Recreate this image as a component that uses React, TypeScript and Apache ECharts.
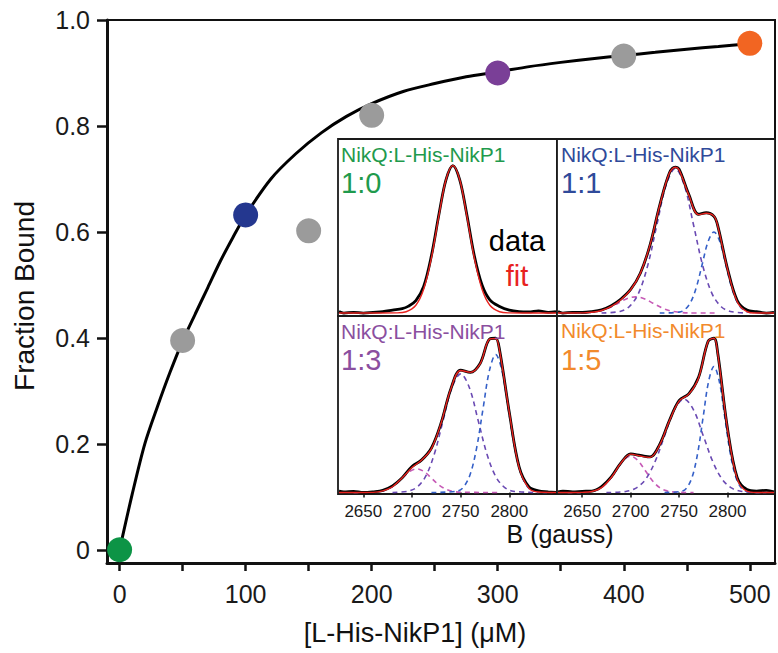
import React, { useEffect, useRef } from "react";
import * as echarts from "echarts";

// ---- Main binding curve ----
const concentrations = [0, 50, 100, 150, 200, 300, 400, 500];
const fractionBound = [0, 0.395, 0.632, 0.602, 0.82, 0.9, 0.932, 0.956];
const pointColors = ["#0d9446", "#9b9b9b", "#24378f", "#9b9b9b", "#9b9b9b", "#7a3f97", "#9b9b9b", "#f26522"];

const curveX = [0, 10, 20, 30, 40, 50, 60, 70, 80, 90, 100, 120, 140, 160, 180, 200, 225, 250, 275, 300, 325, 350, 375, 400, 425, 450, 475, 500];
const curveY = [0, 0.105, 0.2, 0.27, 0.335, 0.394, 0.445, 0.495, 0.545, 0.59, 0.632, 0.7, 0.748, 0.787, 0.818, 0.842, 0.865, 0.88, 0.893, 0.902, 0.912, 0.92, 0.927, 0.933, 0.939, 0.945, 0.95, 0.955];

const xTicks = [0, 50, 100, 150, 200, 250, 300, 350, 400, 450, 500];
const xLabels = [0, 100, 200, 300, 400, 500];
const yTicks = [0, 0.2, 0.4, 0.6, 0.8, 1.0];

// ---- Inset EPR spectra [B (gauss), intensity] ----
const bTicks = [2650, 2700, 2750, 2800];

const spec10Data = [[2625, 0.01], [2630, 0], [2640, 0.005], [2650, 0], [2660, 0.005], [2670, 0.01], [2680, 0.02], [2690, 0.03], [2696, 0.045], [2704, 0.085], [2712, 0.18], [2720, 0.39], [2728, 0.68], [2735, 0.905], [2742, 1], [2749, 0.905], [2756, 0.68], [2764, 0.39], [2772, 0.19], [2780, 0.09], [2790, 0.045], [2800, 0.02], [2810, 0.01], [2820, 0.008], [2830, 0.015], [2840, 0.005], [2848, 0.01]];
const spec10Fit = [[2625, 0], [2640, 0], [2660, 0], [2684, 0.001], [2694, 0.009], [2704, 0.053], [2712, 0.161], [2720, 0.375], [2728, 0.672], [2735, 0.905], [2742, 1], [2749, 0.905], [2756, 0.672], [2764, 0.375], [2772, 0.161], [2780, 0.053], [2790, 0.009], [2800, 0.001], [2820, 0], [2848, 0]];

const spec11Data = [[2625, 0.01], [2630, 0], [2640, 0.005], [2650, 0.004], [2660, 0.01], [2670, 0.022], [2680, 0.05], [2690, 0.095], [2700, 0.16], [2710, 0.27], [2720, 0.46], [2730, 0.73], [2740, 0.95], [2746, 0.99], [2750, 0.975], [2760, 0.805], [2770, 0.67], [2778, 0.68], [2786, 0.655], [2790, 0.59], [2800, 0.3], [2810, 0.085], [2820, 0.02], [2830, 0.01], [2840, 0], [2848, 0.005]];
const spec11Fit = [[2625, 0], [2640, 0], [2650, 0.001], [2660, 0.005], [2670, 0.017], [2680, 0.045], [2690, 0.09], [2700, 0.158], [2710, 0.269], [2720, 0.462], [2730, 0.729], [2740, 0.95], [2746, 0.988], [2750, 0.971], [2760, 0.801], [2770, 0.667], [2778, 0.677], [2786, 0.657], [2790, 0.588], [2800, 0.296], [2810, 0.077], [2820, 0.01], [2830, 0], [2848, 0]];
const spec11Pink = [[2630, 0], [2651, 0.001], [2660, 0.005], [2669, 0.015], [2678, 0.036], [2687, 0.067], [2696, 0.097], [2705, 0.11], [2714, 0.097], [2723, 0.067], [2732, 0.036], [2741, 0.015], [2750, 0.005], [2759, 0.001], [2790, 0]];
const spec11Purple = [[2670, 0], [2689, 0.011], [2698.5, 0.043], [2708, 0.132], [2717.5, 0.319], [2727, 0.595], [2736.5, 0.864], [2746, 0.98], [2755.5, 0.864], [2765, 0.595], [2774.5, 0.319], [2784, 0.132], [2793.5, 0.043], [2803, 0.011], [2820, 0]];
const spec11Blue = [[2730, 0], [2750, 0.006], [2756, 0.024], [2762, 0.074], [2768, 0.179], [2774, 0.334], [2780, 0.485], [2786, 0.55], [2792, 0.485], [2798, 0.334], [2804, 0.179], [2810, 0.074], [2816, 0.024], [2822, 0.006], [2840, 0]];

const spec13Data = [[2625, 0.01], [2630, 0.005], [2640, 0.008], [2650, 0], [2660, 0.005], [2670, 0.015], [2680, 0.045], [2690, 0.1], [2700, 0.175], [2710, 0.22], [2720, 0.3], [2730, 0.47], [2740, 0.7], [2750, 0.825], [2760, 0.81], [2770, 0.87], [2780, 1.035], [2786, 1.04], [2790, 0.96], [2800, 0.54], [2810, 0.175], [2820, 0.04], [2830, 0.012], [2840, 0.005], [2848, 0]];
const spec13Fit = [[2625, 0], [2640, 0], [2650, 0], [2660, 0.001], [2670, 0.011], [2680, 0.039], [2690, 0.099], [2700, 0.168], [2710, 0.219], [2720, 0.296], [2730, 0.47], [2740, 0.7], [2750, 0.823], [2760, 0.81], [2770, 0.867], [2780, 1.035], [2786, 1.038], [2790, 0.956], [2800, 0.538], [2810, 0.169], [2820, 0.03], [2830, 0.003], [2848, 0]];
const spec13Pink = [[2640, 0], [2660, 0.002], [2667.5, 0.007], [2675, 0.022], [2682.5, 0.052], [2690, 0.097], [2697.5, 0.141], [2705, 0.16], [2712.5, 0.141], [2720, 0.097], [2727.5, 0.052], [2735, 0.022], [2742.5, 0.007], [2750, 0.002], [2790, 0]];
const spec13Purple = [[2680, 0], [2696, 0.009], [2705, 0.035], [2714, 0.108], [2723, 0.26], [2732, 0.486], [2741, 0.706], [2750, 0.8], [2759, 0.706], [2768, 0.486], [2777, 0.26], [2786, 0.108], [2795, 0.035], [2804, 0.009], [2830, 0]];
const spec13Blue = [[2720, 0], [2747, 0.01], [2753.5, 0.041], [2760, 0.126], [2766.5, 0.303], [2773, 0.564], [2779.5, 0.82], [2786, 0.93], [2792.5, 0.82], [2799, 0.564], [2805.5, 0.303], [2812, 0.126], [2818.5, 0.041], [2825, 0.01], [2845, 0]];

const spec15Data = [[2625, 0.005], [2630, 0.01], [2640, 0.005], [2650, 0.008], [2660, 0.01], [2670, 0.04], [2680, 0.105], [2690, 0.2], [2700, 0.26], [2710, 0.25], [2720, 0.24], [2730, 0.325], [2740, 0.485], [2750, 0.62], [2760, 0.665], [2770, 0.775], [2780, 1.02], [2786, 1.04], [2790, 0.935], [2800, 0.43], [2810, 0.1], [2820, 0.02], [2830, 0.01], [2840, 0.015], [2848, 0.005]];
const spec15Fit = [[2625, 0], [2640, 0], [2650, 0.001], [2660, 0.007], [2670, 0.033], [2680, 0.101], [2690, 0.199], [2700, 0.259], [2710, 0.246], [2720, 0.237], [2730, 0.321], [2740, 0.483], [2750, 0.616], [2760, 0.663], [2770, 0.771], [2780, 1.02], [2786, 1.04], [2790, 0.932], [2800, 0.428], [2810, 0.092], [2820, 0.009], [2830, 0], [2848, 0]];
const spec15Pink = [[2635, 0], [2655, 0.003], [2662.5, 0.011], [2670, 0.033], [2677.5, 0.08], [2685, 0.149], [2692.5, 0.216], [2700, 0.245], [2707.5, 0.216], [2715, 0.149], [2722.5, 0.08], [2730, 0.033], [2737.5, 0.011], [2745, 0.003], [2765, 0]];
const spec15Purple = [[2675, 0], [2695, 0.007], [2705, 0.028], [2715, 0.085], [2725, 0.205], [2735, 0.382], [2745, 0.556], [2755, 0.63], [2765, 0.556], [2775, 0.382], [2785, 0.205], [2795, 0.085], [2805, 0.028], [2815, 0.007], [2835, 0]];
const spec15Blue = [[2735, 0], [2753, 0.009], [2758.5, 0.037], [2764, 0.115], [2769.5, 0.276], [2775, 0.516], [2780.5, 0.75], [2786, 0.85], [2791.5, 0.75], [2797, 0.516], [2802.5, 0.276], [2808, 0.115], [2813.5, 0.037], [2819, 0.009], [2840, 0]];

const panelTitles = ["NikQ:L-His-NikP1", "NikQ:L-His-NikP1", "NikQ:L-His-NikP1", "NikQ:L-His-NikP1"];
const panelRatios = ["1:0", "1:1", "1:3", "1:5"];
const panelColors = ["#1f9a4d", "#2f4a9a", "#8b4f9f", "#f28a2c"];

const FONT = '"Liberation Sans", Arial, Helvetica, sans-serif';
const PINK = "#c65ab6";
const PURPLE = "#6a4ab3";
const BLUE = "#3560c8";
const RED = "#e8231f";

export default function App() {
  const ref = useRef<HTMLDivElement>(null);

  useEffect(() => {
    if (!ref.current) return;
    const chart = echarts.init(ref.current, undefined, { renderer: "svg" });

    const insetGrid = (left: number, top: number, width: number, height: number) => ({
      left, top, width, height, show: true, borderColor: "#1a1a1a", borderWidth: 1.8, backgroundColor: "#fff",
    });

    const insetX = (gridIndex: number, bottom: boolean) => ({
      type: "value", gridIndex, min: 2624, max: 2849,
      axisLine: { show: false },
      splitLine: { show: false },
      axisTick: bottom
        ? { show: true, customValues: bTicks, length: 5, lineStyle: { color: "#111", width: 1.5 } }
        : { show: false },
      axisLabel: bottom
        ? { show: true, customValues: bTicks, fontSize: 17, fontFamily: FONT, color: "#1a1a1a", margin: 9, formatter: (v: number) => String(Math.round(v)) }
        : { show: false },
    });

    const insetY = (gridIndex: number, top: boolean) => ({
      type: "value", gridIndex,
      min: top ? -0.02 : -0.01, max: top ? 1.18 : 1.19,
      show: false, splitLine: { show: false },
    });

    const specLine = (idx: number, data: number[][], color: string, width: number, dashed: boolean, z: number) => ({
      type: "line", xAxisIndex: idx, yAxisIndex: idx, data,
      smooth: 0.35, showSymbol: false, symbol: "none", silent: true, z,
      lineStyle: { color, width, type: dashed ? [5, 4] : "solid" },
    });

    const panels = [
      { data: spec10Data, fit: spec10Fit, comps: [] as { d: number[][]; c: string }[] },
      { data: spec11Data, fit: spec11Fit, comps: [{ d: spec11Pink, c: PINK }, { d: spec11Purple, c: PURPLE }, { d: spec11Blue, c: BLUE }] },
      { data: spec13Data, fit: spec13Fit, comps: [{ d: spec13Pink, c: PINK }, { d: spec13Purple, c: PURPLE }, { d: spec13Blue, c: BLUE }] },
      { data: spec15Data, fit: spec15Fit, comps: [{ d: spec15Pink, c: PINK }, { d: spec15Purple, c: PURPLE }, { d: spec15Blue, c: BLUE }] },
    ];

    const series: any[] = [
      {
        type: "line", xAxisIndex: 0, yAxisIndex: 0,
        data: curveX.map((x, i) => [x, curveY[i]]),
        smooth: 0.3, showSymbol: false, symbol: "none", z: 2,
        lineStyle: { color: "#000", width: 3 },
      },
      {
        type: "scatter", xAxisIndex: 0, yAxisIndex: 0, symbolSize: 25, z: 3,
        data: concentrations.map((x, i) => ({ value: [x, fractionBound[i]], itemStyle: { color: pointColors[i], opacity: 1 } })),
      },
    ];

    panels.forEach((p, i) => {
      const idx = i + 1;
      p.comps.forEach((c) => series.push(specLine(idx, c.d, c.c, 1.6, true, 3)));
      series.push(specLine(idx, p.data, "#000", 2.8, false, 4));
      series.push(specLine(idx, p.fit, RED, 1.4, false, 5));
    });

    const textPos = [
      { x: 341, y1: 154, y2: 183 },
      { x: 561, y1: 154, y2: 183 },
      { x: 341, y1: 331, y2: 360 },
      { x: 561, y1: 330, y2: 360 },
    ];

    const graphics: any[] = [];
    textPos.forEach((t, i) => {
      graphics.push({
        type: "text", x: t.x, y: t.y1, z: 100,
        style: { text: panelTitles[i], fill: panelColors[i], fontSize: 21, fontFamily: FONT, textAlign: "left", verticalAlign: "middle", textVerticalAlign: "middle" },
      });
      graphics.push({
        type: "text", x: t.x, y: t.y2, z: 100,
        style: { text: panelRatios[i], fill: panelColors[i], fontSize: 29, fontFamily: FONT, textAlign: "left", verticalAlign: "middle", textVerticalAlign: "middle" },
      });
    });
    graphics.push(
      { type: "text", x: 517, y: 241, z: 100, style: { text: "data", fill: "#000", fontSize: 29, fontFamily: FONT, textAlign: "center", verticalAlign: "middle", textVerticalAlign: "middle" } },
      { type: "text", x: 517, y: 276, z: 100, style: { text: "fit", fill: RED, fontSize: 29, fontFamily: FONT, textAlign: "center", verticalAlign: "middle", textVerticalAlign: "middle" } },
      { type: "text", x: 560, y: 534, z: 100, style: { text: "B (gauss)", fill: "#111", fontSize: 25, fontFamily: FONT, textAlign: "center", verticalAlign: "middle", textVerticalAlign: "middle" } },
      { type: "text", x: 415, y: 633, z: 100, style: { text: "[L-His-NikP1] (\u03BCM)", fill: "#111", fontSize: 27, fontFamily: FONT, textAlign: "center", verticalAlign: "middle", textVerticalAlign: "middle" } },
      { type: "text", x: 24, y: 296, rotation: Math.PI / 2, z: 100, style: { text: "Fraction Bound", fill: "#111", fontSize: 28, fontFamily: FONT, textAlign: "center", verticalAlign: "middle", textVerticalAlign: "middle" } },
    );

    chart.setOption({
      animation: false,
      backgroundColor: "#fff",
      grid: [
        { left: 107, top: 20, width: 668, height: 543, show: true, borderColor: "#111", borderWidth: 2, backgroundColor: "#fff" },
        insetGrid(338, 139, 219, 177),
        insetGrid(557, 139, 218, 177),
        insetGrid(338, 316, 219, 178),
        insetGrid(557, 316, 218, 178),
      ],
      xAxis: [
        {
          type: "value", gridIndex: 0, min: -10, max: 520,
          axisLine: { show: true, onZero: false, lineStyle: { color: "#111", width: 3 } },
          axisTick: { show: true, customValues: xTicks, length: 8, lineStyle: { color: "#111", width: 2.5 } },
          axisLabel: { show: true, customValues: xLabels, fontSize: 25, fontFamily: FONT, color: "#1a1a1a", margin: 18 },
          splitLine: { show: false },
        },
        insetX(1, false), insetX(2, false), insetX(3, true), insetX(4, true),
      ],
      yAxis: [
        {
          type: "value", gridIndex: 0, min: -0.025, max: 1.0,
          axisLine: { show: true, onZero: false, lineStyle: { color: "#111", width: 3 } },
          axisTick: { show: true, customValues: yTicks, length: 10, lineStyle: { color: "#111", width: 2.5 } },
          axisLabel: {
            show: true, customValues: yTicks, fontSize: 25, fontFamily: FONT, color: "#1a1a1a", margin: 17,
            formatter: (v: number) => (Math.abs(v) < 1e-9 ? "0" : v.toFixed(1)),
          },
          splitLine: { show: false },
        },
        insetY(1, true), insetY(2, true), insetY(3, false), insetY(4, false),
      ],
      series,
      graphic: graphics,
    });

    return () => chart.dispose();
  }, []);

  return (
    <div
      ref={ref}
      style={{ position: "fixed", left: 0, top: 0, width: 778, height: 653, background: "#fff" }}
    />
  );
}
